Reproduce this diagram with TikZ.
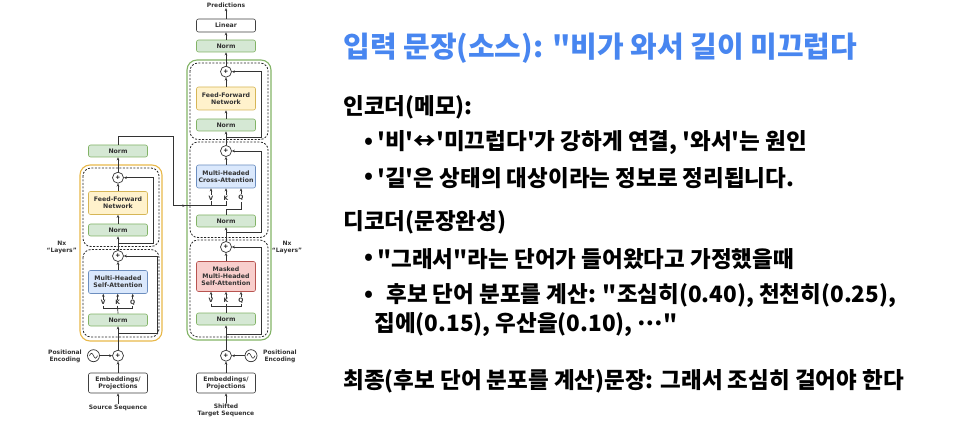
\documentclass[tikz,border=0pt]{standalone}
\usepackage{fontspec}
\newfontfamily\kr{Noto Sans CJK KR}
\newfontfamily\dgm{DejaVu Sans}
\usetikzlibrary{arrows.meta}
\tikzset{
every picture/.style={
line width=0.7pt
}}
\definecolor{grnf}{HTML}{D5E8D4}
\definecolor{grnd}{HTML}{82B366}
\definecolor{yelf}{HTML}{FFF2CC}
\definecolor{yeld}{HTML}{D6B656}
\definecolor{bluf}{HTML}{DAE8FC}
\definecolor{blud}{HTML}{6C8EBF}
\definecolor{redf}{HTML}{F8CECC}
\definecolor{redd}{HTML}{B85450}
\definecolor{encbox}{HTML}{E8B84A}
\definecolor{ttlblue}{RGB}{72,134,240}

\begin{document}
\begin{tikzpicture}[x=1pt, y=-1pt,
lay/.style = {rectangle, rounded corners=2pt, draw=black!75, line width=0.6pt, minimum width=59pt, minimum height=12pt, inner sep=0pt, align=center, text=black!80, font=\dgm\bfseries\fontsize{6.2}{6.9}\selectfont},
normbox/.style = {lay, fill=grnf, draw=grnd},
ffbox/.style = {lay, fill=yelf, draw=yeld, minimum height=23pt},
attbox/.style = {lay, fill=bluf, draw=blud, minimum height=23pt},
maskbox/.style = {lay, fill=redf, draw=redd, minimum height=30pt},
plainbox/.style = {lay, fill=white, minimum height=20pt},
addc/.style = {circle, draw=black!80, fill=white, minimum size=11pt, inner sep=0pt, font=\dgm\bfseries\fontsize{6}{6}\selectfont},
wavec/.style = {circle, draw=black!80, fill=white, minimum size=12pt, inner sep=0pt,
  path picture={\draw[line width=0.6pt] ([xshift=-4pt]path picture bounding box.center) sin ++(2pt,2.5pt) cos ++(2pt,-2.5pt) sin ++(2pt,-2.5pt) cos ++(2pt,2.5pt);}},
txt/.style = {inner sep=0.5pt, align=center, text=black!80, font=\dgm\bfseries\fontsize{6}{7}\selectfont},
arr/.style = {-{Stealth[length=3pt,width=2.6pt]}, black!80},
lnk/.style = {black!80},
dashbox/.style = {draw=black!85, line width=0.8pt, dash pattern=on 2pt off 1.5pt, rounded corners=8pt},
outbox/.style = {line width=1.1pt, rounded corners=10pt},
ttl/.style = {anchor=west, inner sep=0pt, text=ttlblue, font=\kr\bfseries\fontsize{29}{32}\selectfont},
body/.style = {anchor=west, inner sep=0pt, font=\kr\bfseries\fontsize{22.5}{25}\selectfont}]

\useasboundingbox (0,0) rectangle (960,435);

% encoder
\draw [outbox, encbox] (80,165) rectangle (162,341);
\draw [dashbox] (83,168) rectangle (159,246.5);
\draw [dashbox] (83,249.5) rectangle (159,337);

\node [txt] (esrc) at (118,408) {Source Sequence};
\node [plainbox] (eemb) at (118,383) {Embeddings/\\Projections};
\node [addc] (eadd) at (118,355.7) {+};
\node [wavec] (ewave) at (93.5,355.7) {};
\node [txt] (epos) at (65,356) {Positional\\Encoding};
\node [normbox] (enorm1) at (118,320) {Norm};
\node [txt] (ev) at (103.3,302.7) {V};
\node [txt] (ek) at (117.7,302.7) {K};
\node [txt] (eq) at (132.7,302.7) {Q};
\coordinate (ejn) at (117.7,308.3);
\node [attbox] (eatt) at (118,282) {Multi-Headed\\Self-Attention};
\node [addc] (eadd1) at (118,256) {+};
\node [normbox] (enorm2) at (118,230) {Norm};
\node [ffbox] (effn) at (118,203) {Feed-Forward\\Network};
\node [addc] (eadd2) at (118,177.7) {+};
\node [normbox] (enorm3) at (118,151) {Norm};
\node [txt] (enx) at (61.7,247) {Nx\\“Layers”};

\draw [arr] (esrc) -- (eemb);
\draw [arr] (eemb) -- (eadd);
\draw [arr] (ewave) -- (eadd);
\draw [arr] (eadd) -- (enorm1);
\draw [lnk] (enorm1.north) -- (ejn);
\draw [lnk] (ev.south) |- (ejn) -| (eq.south);
\draw [lnk] (ek.south) -- (ejn);
\foreach \n in {ev,ek,eq}
  \draw [arr] (\n.north) -- (\n.north |- eatt.south);
\draw [arr] (eatt) -- (eadd1);
\draw [arr] (118,333) -- ++(39,0) |- (eadd1);
\draw [arr] (eadd1) -- (enorm2);
\draw [arr] (enorm2) -- (effn);
\draw [arr] (effn) -- (eadd2);
\draw [arr] (118,243) -- ++(35,0) |- (eadd2);
\draw [arr] (eadd2) -- (enorm3);

% decoder
\draw [outbox, grnd] (187,60) rectangle (271,340);
\draw [dashbox] (190,63) rectangle (268,139.5);
\draw [dashbox] (190,142) rectangle (268,237.5);
\draw [dashbox] (190,240) rectangle (268,337);

\node [txt] (dsrc) at (226,410) {Shifted\\Target Sequence};
\node [plainbox] (demb) at (226,383) {Embeddings/\\Projections};
\node [addc] (dadd) at (226,355.7) {+};
\node [wavec] (dwave) at (251,355.7) {};
\node [txt] (dpos) at (280,356) {Positional\\Encoding};
\node [normbox] (dnorm1) at (226,319) {Norm};
\node [txt] (dv) at (211,300.7) {V};
\node [txt] (dk) at (226,300.7) {K};
\node [txt] (dq) at (241,300.7) {Q};
\coordinate (djn) at (226,306.7);
\node [maskbox] (dmask) at (226,276.5) {Masked\\Multi-Headed\\Self-Attention};
\node [addc] (dadd1) at (226,247) {+};
\node [normbox] (dnorm2) at (226,221) {Norm};
\node [txt] (cv) at (211,198) {V};
\node [txt] (ck) at (226,198) {K};
\node [txt] (cq) at (241,198) {Q};
\node [attbox] (dcross) at (226,176.5) {Multi-Headed\\Cross-Attention};
\node [addc] (dadd2) at (226,151) {+};
\node [normbox] (dnorm3) at (226,125) {Norm};
\node [ffbox] (dffn) at (226,98.5) {Feed-Forward\\Network};
\node [addc] (dadd3) at (226,71.7) {+};
\node [normbox] (dnorm4) at (226,46) {Norm};
\node [plainbox, minimum height=13pt] (dlin) at (226,25.5) {Linear};
\node [txt] (dpred) at (226,5) {Predictions};
\node [txt] (dnx) at (287,247) {Nx\\“Layers”};
\coordinate (encout) at (173.3,205.7);

\draw [arr] (dsrc) -- (demb);
\draw [arr] (demb) -- (dadd);
\draw [arr] (dwave) -- (dadd);
\draw [arr] (dadd) -- (dnorm1);
\draw [lnk] (dnorm1.north) -- (djn);
\draw [lnk] (dv.south) |- (djn) -| (dq.south);
\draw [lnk] (dk.south) -- (djn);
\foreach \n in {dv,dk,dq}
  \draw [arr] (\n.north) -- (\n.north |- dmask.south);
\draw [arr] (dmask) -- (dadd1);
\draw [arr] (226,334) -- ++(35,0) |- (dadd1);
\draw [arr] (dadd1) -- (dnorm2);
\draw [lnk] (dnorm2.north) -- ++(0,-5) -| (cq.south);
\draw [lnk] (enorm3.north) -- ++(0,-8.3) -| (encout) -- (ck.south |- encout) -- (ck.south);
\draw [arr] (encout) -- ++(12,0);
\draw [lnk] (cv.south) -- (cv.south |- encout);
\foreach \n in {cv,ck,cq}
  \draw [arr] (\n.north) -- (\n.north |- dcross.south);
\draw [arr] (dcross) -- (dadd2);
\draw [arr] (226,232) -- ++(35,0) |- (dadd2);
\draw [arr] (dadd2) -- (dnorm3);
\draw [arr] (dnorm3) -- (dffn);
\draw [arr] (dffn) -- (dadd3);
\draw [arr] (226,137) -- ++(35,0) |- (dadd3);
\draw [arr] (dadd3) -- (dnorm4);
\draw [arr] (dnorm4) -- (dlin);
\draw [arr] (dlin) -- (dpred);

% notes
\node [ttl] (title) at (343,48) {입력 문장(소스): "비가 와서 길이 미끄럽다};
\node [body] (enc) at (343,107) {인코더(메모):};
\node [body] (bul1) at (364,143) {•};
\node [body] (line1) at (377,143) {'비'↔'미끄럽다'가 강하게 연결, '와서'는 원인};
\node [body] (bul2) at (364,178) {•};
\node [body] (line2) at (377,178) {'길'은 상태의 대상이라는 정보로 정리됩니다.};
\node [body] (dec) at (343,222) {디코더(문장완성)};
\node [body] (bul3) at (364,259) {•};
\node [body] (line3) at (377,259) {"그래서"라는 단어가 들어왔다고 가정했을때};
\node [body] (bul4) at (364,296) {•};
\node [body] (line4) at (386,296) {후보 단어 분포를 계산: "조심히(0.40), 천천히(0.25),};
\node [body] (line5) at (374,325) {집에(0.15), 우산을(0.10), \raisebox{0.3em}{…}"};
\node [body] (final) at (343,381) {최종(후보 단어 분포를 계산)문장: 그래서 조심히 걸어야 한다};

\end{tikzpicture}
\end{document}
